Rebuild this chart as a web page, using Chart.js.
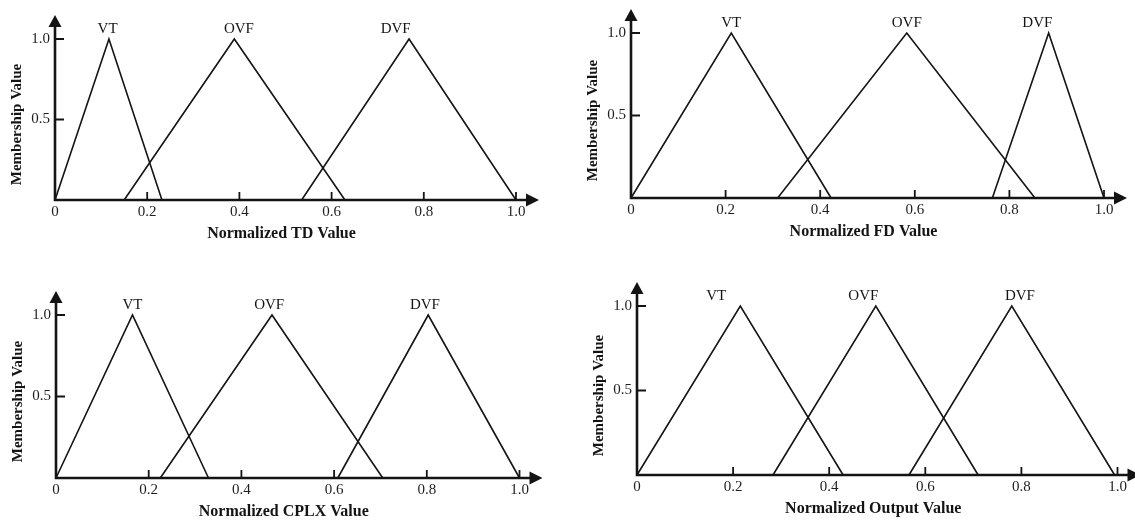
<!DOCTYPE html>
<html>
<head>
<meta charset="utf-8">
<script src="https://cdn.jsdelivr.net/npm/chart.js@4.4.1/dist/chart.umd.min.js"></script>
<style>
  html, body { margin: 0; padding: 0; background: #fff; }
  #sheet { position: relative; width: 1135px; height: 521px; overflow: hidden; background: #fff; }
  .panel { position: absolute; }
  .panel canvas { display: block; }
</style>
</head>
<body>
<div id="sheet">
  <div class="panel" style="left:0px;top:0px;"><canvas id="td" width="567" height="260"></canvas></div>
  <div class="panel" style="left:567px;top:0px;"><canvas id="fd" width="568" height="260"></canvas></div>
  <div class="panel" style="left:0px;top:260px;"><canvas id="cplx" width="567" height="261"></canvas></div>
  <div class="panel" style="left:567px;top:260px;"><canvas id="out" width="568" height="261"></canvas></div>
</div>
<script>
// Fuzzy sets: each term is a triangle given by (left foot, peak, right foot)
const terms = ['VT', 'OVF', 'DVF'];
const membership = [0, 1, 0];            // membership at left foot, peak, right foot
const xTickValues = [0, 0.2, 0.4, 0.6, 0.8, 1.0];
const xTickLabels = ['0', '0.2', '0.4', '0.6', '0.8', '1.0'];
const yTickValues = [0.5, 1.0];
const yTickLabels = ['0.5', '1.0'];
const termLabelLevel = 1.06;             // membership level where term names sit

// Normalized TD
const tdVT  = [0, 0.117, 0.232];
const tdOVF = [0.150, 0.389, 0.629];
const tdDVF = [0.535, 0.768, 1.0];
const tdTermLabelX = [0.114, 0.399, 0.739];

// Normalized FD
const fdVT  = [0, 0.212, 0.423];
const fdOVF = [0.310, 0.583, 0.854];
const fdDVF = [0.764, 0.883, 1.0];
const fdTermLabelX = [0.212, 0.583, 0.859];

// Normalized CPLX
const cplxVT  = [0, 0.165, 0.329];
const cplxOVF = [0.225, 0.466, 0.705];
const cplxDVF = [0.608, 0.803, 1.0];
const cplxTermLabelX = [0.165, 0.460, 0.796];

// Normalized Output
const outVT  = [0, 0.215, 0.429];
const outOVF = [0.283, 0.497, 0.710];
const outDVF = [0.566, 0.780, 0.994];
const outTermLabelX = [0.165, 0.471, 0.797];

const INK = '#141414';
const SERIF = '"Liberation Serif", "Times New Roman", Times, serif';
const Y_AXIS_W = 40;
const X_AXIS_H = 30;

// Axis arrows, inward tick marks, axis titles and term names
const fuzzyAxes = {
  id: 'fuzzyAxes',
  afterDraw(chart, args, opts) {
    const { ctx, chartArea: a, scales: { x, y } } = chart;
    const x0 = x.getPixelForValue(0);
    const y0 = y.getPixelForValue(0);
    const xTip = a.right + 23;
    const yTip = a.top - 24;
    ctx.save();
    ctx.strokeStyle = INK;
    ctx.fillStyle = INK;
    ctx.lineCap = 'butt';

    ctx.lineWidth = 2.6;
    ctx.beginPath();
    ctx.moveTo(x0 - 1.3, y0); ctx.lineTo(xTip - 10, y0);
    ctx.moveTo(x0, y0 + 1.3); ctx.lineTo(x0, yTip + 10);
    ctx.stroke();

    ctx.beginPath();
    ctx.moveTo(xTip, y0); ctx.lineTo(xTip - 13, y0 - 6.5); ctx.lineTo(xTip - 13, y0 + 6.5);
    ctx.closePath(); ctx.fill();
    ctx.beginPath();
    ctx.moveTo(x0, yTip); ctx.lineTo(x0 - 6.5, yTip + 12); ctx.lineTo(x0 + 6.5, yTip + 12);
    ctx.closePath(); ctx.fill();

    ctx.lineWidth = 1.8;
    ctx.beginPath();
    xTickValues.forEach(v => {
      if (v === 0) return;
      const px = x.getPixelForValue(v);
      ctx.moveTo(px, y0); ctx.lineTo(px, y0 - 8);
    });
    yTickValues.forEach(v => {
      const py = y.getPixelForValue(v);
      ctx.moveTo(x0, py); ctx.lineTo(x0 + 9, py);
    });
    ctx.stroke();

    ctx.textAlign = 'center';
    ctx.textBaseline = 'middle';
    ctx.font = '15px ' + SERIF;
    opts.termLabelX.forEach((lx, k) => {
      ctx.fillText(terms[k], x.getPixelForValue(lx), y.getPixelForValue(termLabelLevel));
    });

    ctx.font = 'bold 16px ' + SERIF;
    ctx.fillText(opts.xTitle, (a.left + a.right) / 2 - 4, y0 + 34);

    ctx.font = 'bold 15px ' + SERIF;
    ctx.translate(x0 - 38, (a.top + a.bottom) / 2 + 5);
    ctx.rotate(-Math.PI / 2);
    ctx.fillText('Membership Value', 0, 0);
    ctx.restore();
  }
};

function tickFont() { return { family: SERIF, size: 15 }; }

function drawPanel(id, xTitle, sets, termLabelX, frame) {
  const canvas = document.getElementById(id);
  const w = canvas.width, h = canvas.height;
  new Chart(canvas.getContext('2d'), {
    type: 'scatter',
    data: {
      datasets: sets.map((corners, k) => ({
        label: terms[k],
        data: corners.map((v, i) => ({ x: v, y: membership[i] })),
        showLine: true,
        borderColor: INK,
        borderWidth: 1.6,
        borderJoinStyle: 'miter',
        pointRadius: 0,
        pointHoverRadius: 0,
        tension: 0,
        fill: false,
        clip: false
      }))
    },
    options: {
      responsive: false,
      animation: false,
      devicePixelRatio: 1,
      events: [],
      layout: {
        padding: {
          left: frame.left - Y_AXIS_W,
          right: w - frame.right,
          top: frame.top,
          bottom: h - frame.bottom - X_AXIS_H
        }
      },
      plugins: {
        legend: { display: false },
        tooltip: { enabled: false },
        fuzzyAxes: { xTitle, termLabelX }
      },
      scales: {
        x: {
          type: 'linear', min: 0, max: 1,
          afterBuildTicks: s => { s.ticks = xTickValues.map(v => ({ value: v })); },
          afterFit: s => { s.height = X_AXIS_H; },
          grid: { display: false, drawTicks: false },
          border: { display: false },
          ticks: {
            autoSkip: false, maxRotation: 0, padding: 3,
            color: '#1e1e1e', font: tickFont(),
            callback: (v, i) => xTickLabels[i]
          }
        },
        y: {
          type: 'linear', min: 0, max: 1,
          afterBuildTicks: s => { s.ticks = yTickValues.map(v => ({ value: v })); },
          afterFit: s => { s.width = Y_AXIS_W; },
          grid: { display: false, drawTicks: false },
          border: { display: false },
          ticks: {
            autoSkip: false, padding: 5,
            color: '#1e1e1e', font: tickFont(),
            callback: (v, i) => yTickLabels[i]
          }
        }
      }
    },
    plugins: [fuzzyAxes]
  });
}

drawPanel('td', 'Normalized TD Value', [tdVT, tdOVF, tdDVF], tdTermLabelX,
  { left: 55, right: 516, top: 39, bottom: 200 });
drawPanel('fd', 'Normalized FD Value', [fdVT, fdOVF, fdDVF], fdTermLabelX,
  { left: 64, right: 537, top: 33, bottom: 198 });
drawPanel('cplx', 'Normalized CPLX Value', [cplxVT, cplxOVF, cplxDVF], cplxTermLabelX,
  { left: 56, right: 519.5, top: 55, bottom: 218 });
drawPanel('out', 'Normalized Output Value', [outVT, outOVF, outDVF], outTermLabelX,
  { left: 70, right: 550.5, top: 46, bottom: 215 });
</script>
</body>
</html>
